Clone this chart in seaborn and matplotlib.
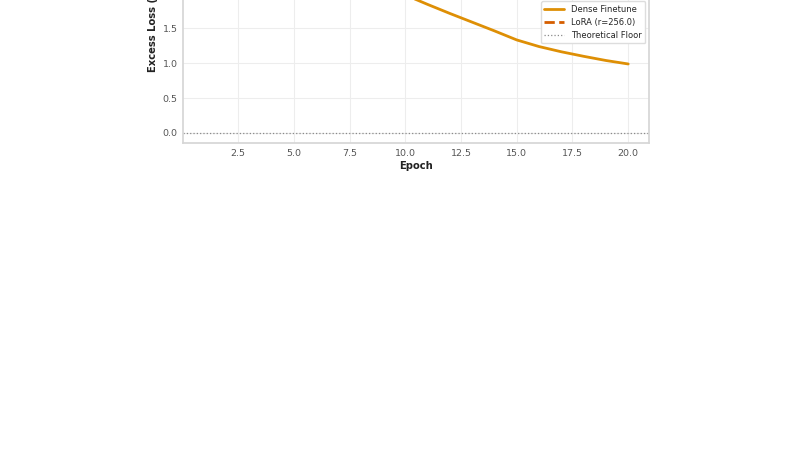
import matplotlib
matplotlib.use("Agg")
import matplotlib.pyplot as plt
import seaborn as sns
import pandas as pd

epochs = list(range(1, 21))
dense_finetune = [3.23, 3.10, 2.96, 2.82, 2.68, 2.54, 2.40, 2.26, 2.12, 1.98,
                  1.845, 1.715, 1.59, 1.465, 1.335, 1.24, 1.165, 1.10, 1.04, 0.99]
lora_r256 = [3.23, 3.12, 3.03, 2.94, 2.85, 2.76, 2.67, 2.58, 2.50, 2.42,
             2.35, 2.29, 2.23, 2.18, 2.14, 2.11, 2.08, 2.06, 2.05, 2.04]
floor_value = 0.0
series_labels = ["Dense Finetune", "LoRA (r=256.0)", "Theoretical Floor"]
x_label = "Epoch"
y_label = "Excess Loss (nats)"

sns.set_theme(style="whitegrid")
plt.rcParams["font.family"] = ["DejaVu Sans"]
plt.rcParams["axes.edgecolor"] = "#d6d6d6"
plt.rcParams["grid.color"] = "#ededed"
plt.rcParams["grid.linewidth"] = 0.8

df = pd.DataFrame({"epoch": epochs, "dense": dense_finetune, "lora": lora_r256})

fig = plt.figure(figsize=(8, 4.5), dpi=100)
ax = fig.add_axes([183.4 / 800, (450 - 143.3) / 450, 466 / 800, 246.6 / 450])

sns.lineplot(data=df, x="epoch", y="dense", ax=ax, color="#de8f05",
             linewidth=2.0, label=series_labels[0])
sns.lineplot(data=df, x="epoch", y="lora", ax=ax, color="#d55e00",
             linewidth=2.0, linestyle="--", label=series_labels[1])
ax.axhline(floor_value, color="#8a8a8a", linewidth=0.9, linestyle=":",
           label=series_labels[2])

ax.set_ylim(-0.148, 3.39)
ax.tick_params(axis="both", labelsize=6.8, colors="#555555", length=0, pad=4)
ax.set_xlabel(x_label, fontsize=7.2, fontweight="bold", labelpad=2, color="#222222")
ax.set_ylabel(y_label, fontsize=7.2, fontweight="bold", loc="bottom", color="#222222")
ax.yaxis.set_label_coords(-0.054, (143.3 - 72) / 246.6)

leg = ax.legend(loc="center right", fontsize=6.0, handlelength=2.4,
                frameon=True, framealpha=1.0, edgecolor="#dddddd",
                bbox_to_anchor=(1.0, 0.49))

fig.savefig("out.png", dpi=100)
